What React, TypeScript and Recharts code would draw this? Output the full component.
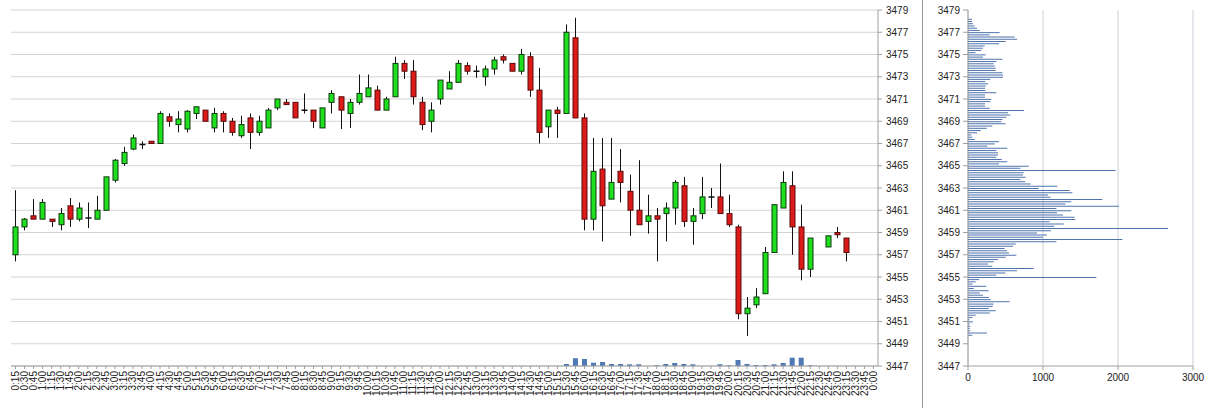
import React from 'react';
import { ComposedChart, BarChart, Bar, XAxis, YAxis, CartesianGrid } from 'recharts';

const times = [
  '0:15','0:30','0:45','1:00','1:15','1:30','1:45','2:00','2:15','2:30','2:45','3:00',
  '3:15','3:30','3:45','4:00','4:15','4:30','4:45','5:00','5:15','5:30','5:45','6:00',
  '6:15','6:30','6:45','7:00','7:15','7:30','7:45','8:00','8:15','8:30','8:45','9:00',
  '9:15','9:30','9:45','10:00','10:15','10:30','10:45','11:00','11:15','11:30','11:45','12:00',
  '12:15','12:30','12:45','13:00','13:15','13:30','13:45','14:00','14:15','14:30','14:45','15:00',
  '15:15','15:30','15:45','16:00','16:15','16:30','16:45','17:00','17:15','17:30','17:45','18:00',
  '18:15','18:30','18:45','19:00','19:15','19:30','19:45','20:00','20:15','20:30','20:45','21:00',
  '21:15','21:30','21:45','22:00','22:15','22:30','22:45','23:00','23:15','23:30','23:45','0:00',
];

const opens = [
  3457.0, 3459.5, 3460.5, 3460.2, 3460.2, 3459.7, 3461.4, 3460.2, 3460.3, 3460.2,
  3461.0, 3463.7, 3465.2, 3466.5, 3466.9, 3467.2, 3467.0, 3469.4, 3468.7, 3468.3,
  3469.7, 3470.0, 3468.4, 3469.7, 3469.0, 3467.7, 3469.3, 3468.0, 3468.4, 3470.2,
  3470.7, 3470.7, 3470.0, 3470.0, 3468.4, 3470.7, 3471.2, 3469.7, 3470.7, 3471.2,
  3471.8, 3470.0, 3471.2, 3474.2, 3473.5, 3470.7, 3469.0, 3471.0, 3471.9, 3472.5,
  3474.0, 3473.5, 3473.0, 3473.7, 3474.8, 3474.2, 3473.5, 3474.8, 3471.8, 3468.5,
  3470.0, 3469.7, 3476.5, 3469.3, 3460.2, 3464.7, 3462.0, 3464.5, 3462.7, 3461.0,
  3460.0, 3460.5, 3460.7, 3461.2, 3463.2, 3460.0, 3460.7, 3462.2, 3462.2, 3460.7,
  3459.5, 3451.7, 3452.5, 3453.5, 3457.2, 3461.2, 3463.2, 3459.5, 3455.7, null,
  3457.7, 3459.0, 3458.5, null, null, null,
];
const highs = [
  3462.8, 3460.3, 3462.0, 3462.0, 3460.2, 3461.2, 3462.1, 3461.7, 3461.7, 3462.3,
  3464.0, 3465.6, 3466.7, 3467.8, 3467.2, 3467.2, 3469.9, 3469.7, 3469.9, 3470.0,
  3470.3, 3470.0, 3470.2, 3469.9, 3469.3, 3469.5, 3469.7, 3469.5, 3470.2, 3471.0,
  3471.0, 3470.7, 3471.5, 3470.0, 3470.2, 3471.8, 3471.2, 3471.0, 3473.2, 3473.2,
  3472.2, 3471.2, 3474.8, 3474.5, 3474.5, 3471.2, 3470.7, 3472.7, 3473.5, 3474.5,
  3474.3, 3474.0, 3474.0, 3474.8, 3475.0, 3474.2, 3475.5, 3475.2, 3473.8, 3470.0,
  3470.3, 3477.7, 3478.3, 3469.7, 3467.5, 3467.5, 3467.5, 3466.5, 3464.2, 3465.5,
  3462.4, 3461.2, 3461.7, 3463.7, 3464.0, 3461.2, 3464.0, 3463.0, 3465.2, 3462.4,
  3459.7, 3453.2, 3454.0, 3457.7, 3461.5, 3464.5, 3464.5, 3461.5, 3458.5, null,
  3458.7, 3459.5, 3458.5, null, null, null,
];
const lows = [
  3456.4, 3459.2, 3460.2, 3460.2, 3459.5, 3459.2, 3459.5, 3460.0, 3459.4, 3460.2,
  3461.0, 3463.5, 3465.0, 3466.4, 3466.5, 3467.0, 3467.0, 3468.5, 3468.0, 3468.0,
  3469.2, 3469.0, 3468.0, 3468.0, 3467.7, 3467.5, 3466.5, 3467.7, 3468.4, 3470.0,
  3470.5, 3469.3, 3469.7, 3468.4, 3468.4, 3469.7, 3468.3, 3468.4, 3470.5, 3471.2,
  3470.0, 3470.0, 3471.2, 3472.8, 3470.5, 3468.2, 3468.0, 3470.5, 3471.9, 3472.5,
  3473.2, 3472.9, 3472.2, 3473.2, 3474.2, 3473.5, 3473.2, 3471.2, 3467.0, 3467.5,
  3467.5, 3469.7, 3469.3, 3459.2, 3459.2, 3458.2, 3462.0, 3461.7, 3458.7, 3459.7,
  3458.9, 3456.4, 3458.2, 3459.7, 3459.5, 3457.9, 3460.2, 3461.2, 3460.7, 3459.5,
  3451.2, 3449.7, 3452.2, 3453.5, 3457.2, 3461.2, 3457.0, 3454.7, 3455.0, null,
  3457.7, 3458.5, 3456.4, null, null, null,
];
const closes = [
  3459.5, 3460.2, 3460.2, 3461.7, 3460.0, 3460.7, 3460.2, 3461.2, 3460.3, 3461.0,
  3464.0, 3465.5, 3466.2, 3467.5, 3466.9, 3467.0, 3469.7, 3469.0, 3469.2, 3469.9,
  3470.3, 3469.0, 3469.7, 3469.0, 3468.0, 3468.7, 3468.0, 3469.0, 3470.0, 3471.0,
  3470.5, 3469.3, 3470.0, 3469.0, 3470.2, 3471.5, 3470.0, 3470.7, 3471.5, 3472.0,
  3470.0, 3471.0, 3474.2, 3473.5, 3471.2, 3468.7, 3470.0, 3472.7, 3472.5, 3474.2,
  3473.5, 3473.5, 3473.7, 3474.5, 3474.5, 3473.5, 3475.0, 3471.8, 3468.0, 3470.0,
  3469.7, 3477.0, 3469.3, 3460.2, 3464.5, 3461.4, 3463.5, 3463.5, 3461.0, 3459.7,
  3460.5, 3460.2, 3461.2, 3463.5, 3460.0, 3460.5, 3462.2, 3462.2, 3460.7, 3459.7,
  3451.7, 3452.2, 3453.2, 3457.2, 3461.5, 3463.5, 3459.5, 3455.7, 3458.5, null,
  3458.7, 3458.8, 3457.2, null, null, null,
];
const volumes = [
  null, null, null, null, null, null, null, null, null, null,
  null, null, null, null, null, null, null, null, null, null,
  null, null, null, null, null, null, null, null, null, null,
  null, null, null, null, null, null, null, null, null, null,
  null, null, null, null, null, null, null, null, null, null,
  null, null, null, null, null, null, null, null, null, null,
  null, 1000, 3900, 3500, 1650, 2000, 1000, 1000, 850, 850,
  0, 350, 1000, 1500, 1000, 850, 0, 0, 850, 350,
  3000, 1000, 500, 500, 850, 1500, 4150, 4150, 350, null,
  null, null, null, null, null, null,
];

const priceTicks = [3447, 3449, 3451, 3453, 3455, 3457, 3459, 3461, 3463, 3465, 3467, 3469, 3471, 3473, 3475, 3477, 3479];

const profilePrices = [
  3478.2, 3478.0, 3477.8, 3477.6, 3477.4, 3477.2, 3477.0, 3476.8, 3476.6, 3476.4,
  3476.2, 3476.0, 3475.8, 3475.6, 3475.4, 3475.2, 3475.0, 3474.8, 3474.6, 3474.4,
  3474.2, 3474.0, 3473.8, 3473.6, 3473.4, 3473.2, 3473.0, 3472.8, 3472.6, 3472.4,
  3472.2, 3472.0, 3471.8, 3471.6, 3471.4, 3471.2, 3471.0, 3470.8, 3470.6, 3470.4,
  3470.2, 3470.0, 3469.8, 3469.6, 3469.4, 3469.2, 3469.0, 3468.8, 3468.6, 3468.4,
  3468.2, 3468.0, 3467.8, 3467.6, 3467.4, 3467.2, 3467.0, 3466.8, 3466.6, 3466.4,
  3466.2, 3466.0, 3465.8, 3465.6, 3465.4, 3465.2, 3465.0, 3464.8, 3464.6, 3464.4,
  3464.2, 3464.0, 3463.8, 3463.6, 3463.4, 3463.2, 3463.0, 3462.8, 3462.6, 3462.4,
  3462.2, 3462.0, 3461.8, 3461.6, 3461.4, 3461.2, 3461.0, 3460.8, 3460.6, 3460.4,
  3460.2, 3460.0, 3459.8, 3459.6, 3459.4, 3459.2, 3459.0, 3458.8, 3458.6, 3458.4,
  3458.2, 3458.0, 3457.8, 3457.6, 3457.4, 3457.2, 3457.0, 3456.8, 3456.6, 3456.4,
  3456.2, 3456.0, 3455.8, 3455.6, 3455.4, 3455.2, 3455.0, 3454.8, 3454.6, 3454.4,
  3454.2, 3454.0, 3453.8, 3453.6, 3453.4, 3453.2, 3453.0, 3452.8, 3452.6, 3452.4,
  3452.2, 3452.0, 3451.8, 3451.6, 3451.4, 3451.2, 3451.0, 3450.8, 3450.6, 3450.4,
  3450.2, 3450.0, 3449.8,
];
const profileVolumes = [
  53, 53, 67, 89, 120, 155, 422, 289, 622, 653,
  502, 413, 222, 200, 178, 102, 236, 200, 458, 378,
  342, 356, 369, 369, 458, 467, 467, 298, 231, 267,
  236, 227, 231, 378, 227, 227, 311, 298, 227, 227,
  289, 747, 533, 564, 511, 458, 444, 498, 324, 250,
  169, 120, 44, 58, 89, 413, 356, 258, 524, 378,
  400, 400, 378, 450, 524, 413, 809, 698, 1969, 742,
  733, 769, 698, 760, 836, 1191, 942, 1356, 1391, 1067,
  1100, 1791, 1378, 1300, 2013, 1178, 1378, 1187, 1267, 1422,
  1431, 1089, 1276, 1150, 2667, 1107, 920, 1053, 1000, 2058,
  1178, 636, 600, 489, 520, 547, 644, 502, 400, 342,
  267, 324, 876, 653, 500, 378, 1711, 147, 102, 60,
  244, 76, 276, 156, 200, 280, 302, 556, 342, 330,
  276, 369, 289, 102, 60, 22, 67, 22, 31, 22,
  30, 253, 58,
];
const profileTicks = [0, 1000, 2000, 3000];

const FONT = '"Liberation Sans", Arial, sans-serif';

const TimeTick = (props: any) => {
  const { x, y, payload } = props;
  return (
    <text x={x} y={y} transform={`rotate(-90 ${x} ${y})`} textAnchor="end" dominantBaseline="central" fontSize={10} fill="#222" fontFamily={FONT}>
      {payload.value}
    </text>
  );
};

const Candle = (props: any) => {
  const { x, y, width, height, payload } = props;
  if (!payload || payload.o == null) return null;
  const { o, h, l, c } = payload;
  const top = Math.min(y, y + height);
  const hh = Math.abs(height);
  const span = h - l;
  const k = span > 0 ? hh / span : 0;
  const yOf = (v: number) => top + (h - v) * k;
  const cx = Math.round(x + width / 2) + 0.5;
  const bodyTop = yOf(Math.max(o, c));
  const bodyBot = yOf(Math.min(o, c));
  const up = c > o;
  const doji = Math.abs(c - o) < 0.05;
  const bw = 5;
  return (
    <g>
      <line x1={cx} x2={cx} y1={top} y2={top + hh} stroke="#111" strokeWidth={1} />
      {doji ? (
        <line x1={cx - 3} x2={cx + 3} y1={bodyTop} y2={bodyTop} stroke="#111" strokeWidth={1.5} />
      ) : (
        <rect x={cx - bw / 2} y={bodyTop} width={bw} height={Math.max(bodyBot - bodyTop, 1)}
          fill={up ? '#1fe01f' : '#dc1a1a'} stroke={up ? '#0a3a0a' : '#5a0a0a'} strokeWidth={1} />
      )}
    </g>
  );
};

export default function App() {
  const data = times.map((t, i) => ({
    time: t,
    range: opens[i] == null ? null : [lows[i], highs[i]],
    o: opens[i], h: highs[i], l: lows[i], c: closes[i],
    vol: volumes[i],
  }));
  const profile = profilePrices.map((p, i) => ({ price: p, vol: profileVolumes[i] }));
  const tickStyle = { fontSize: 10, fill: '#222', fontFamily: FONT };
  return (
    <div style={{ position: 'fixed', left: 0, top: 0, width: 1211, height: 408, background: '#fff', fontFamily: FONT }}>
      <div style={{ position: 'absolute', left: 0, top: 0 }}>
        <ComposedChart width={922} height={408} data={data} margin={{ top: 10, right: 0, bottom: 0, left: 11 }}>
          <CartesianGrid horizontal vertical={false} stroke="#d4d4d4" xAxisId="t" yAxisId="p" />
          <XAxis xAxisId="t" dataKey="time" interval={0} height={42} tick={<TimeTick />} tickSize={3} tickMargin={2} stroke="#a0a0a0" />
          <XAxis xAxisId="v" dataKey="time" hide />
          <YAxis yAxisId="p" orientation="right" type="number" domain={[3447, 3479]} ticks={priceTicks} interval={0}
            width={44} tickSize={4} tickMargin={4} stroke="#a0a0a0" tick={tickStyle} allowDataOverflow />
          <YAxis yAxisId="l" orientation="left" type="number" domain={[3447, 3479]} width={0} tick={false} tickLine={false} stroke="#a0a0a0" />
          <YAxis yAxisId="v" hide type="number" domain={[0, 178000]} />
          <Bar xAxisId="v" yAxisId="v" dataKey="vol" barSize={5} fill="#4f79b4" isAnimationActive={false} />
          <Bar xAxisId="t" yAxisId="p" dataKey="range" shape={(p: any) => <Candle {...p} />} isAnimationActive={false} />
        </ComposedChart>
      </div>
      <div style={{ position: 'absolute', left: 922, top: 0, width: 1, height: 408, background: '#9a9a9a' }} />
      <div style={{ position: 'absolute', left: 922, top: 0 }}>
        <BarChart layout="vertical" width={289} height={408} data={profile} margin={{ top: 10, right: 18, bottom: 0, left: 0 }}>
          <CartesianGrid horizontal={false} vertical stroke="#c9cfd9" />
          <XAxis type="number" domain={[0, 3000]} ticks={profileTicks} interval={0} height={42} tickSize={4} tickMargin={4}
            stroke="#a0a0a0" tick={tickStyle} />
          <YAxis type="number" dataKey="price" domain={[3447, 3479]} ticks={priceTicks} interval={0} width={46} reversed
            tickSize={5} tickMargin={3} stroke="#a0a0a0" tick={tickStyle} />
          <Bar dataKey="vol" barSize={1} fill="#4e73ad" isAnimationActive={false} />
        </BarChart>
      </div>
    </div>
  );
}
